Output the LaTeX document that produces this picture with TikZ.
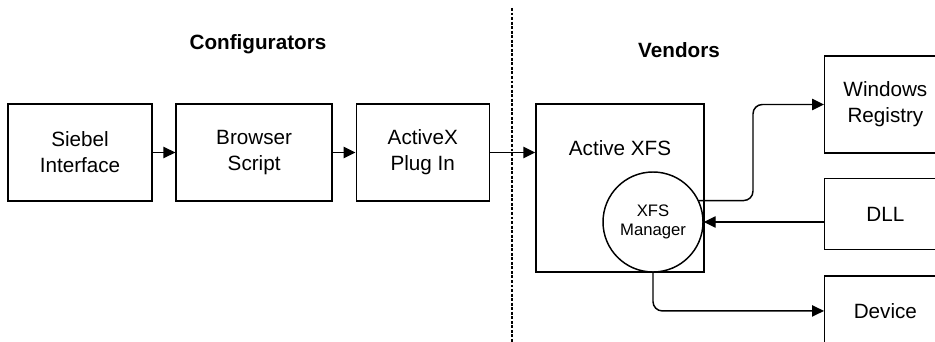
\documentclass[tikz,border=0pt]{standalone}
\usepackage{fontspec}
\setmainfont{Liberation Sans}
\usetikzlibrary{positioning,arrows.meta,calc}
\tikzset{
    block/.style={rectangle, draw=black, line width=1.1pt, fill=white, align=center, inner sep=0pt, font=\fontsize{15.5}{19.5}\selectfont},
    manager/.style={circle, draw=black, line width=1.1pt, fill=white, align=center, inner sep=0pt, minimum size=75pt, font=\fontsize{12.5}{14.4}\selectfont},
    grouptitle/.style={font=\bfseries\fontsize{15.5}{18}\selectfont},
    arrow/.style={-{Triangle[length=9pt,width=8.5pt]}, line width=1.1pt},
    divider/.style={line width=1.1pt, dash pattern=on 2.2pt off 1.2pt},
}

\begin{document}
\begin{tikzpicture}[x=0.75pt, y=-0.75pt]
    \useasboundingbox (0,0) rectangle (935,342);
    \clip (0,0) rectangle (935,342);

    % Group titles
    \node[grouptitle] (conftitle) at (258,44) {Configurators};
    \node[grouptitle] (vendtitle) at (679,50) {Vendors};

    % Divider
    \coordinate (divtop) at (512,8);
    \coordinate (divbot) at (512,342);
    \draw[divider] (divtop) -- (divbot);

    % Configurator side
    \node[block, minimum width=108pt, minimum height=72.75pt] (siebel) at (80,152.5) {Siebel\\Interface};
    \node[block, minimum width=117pt, minimum height=72.75pt, right=17pt of siebel] (browser) {Browser\\Script};
    \node[block, minimum width=99.75pt, minimum height=72.75pt, right=17pt of browser] (activex) {ActiveX\\Plug In};

    % Vendor side
    \node[block, minimum width=126pt, minimum height=126pt] (xfs) at (620,188) {};
    \node[font=\fontsize{15.5}{19.5}\selectfont] (xfslabel) at ($(xfs.north)+(0,45)$) {Active XFS};
    \node[manager] (mgr) at (653,222) {XFS\\Manager};

    \node[block, minimum width=100pt, minimum height=72.75pt, anchor=west] (winreg) at (824,104.5) {\hspace*{-9pt}Windows\\\hspace*{-9pt}Registry};
    \node[block, minimum width=100pt, minimum height=53.25pt, below=18pt of winreg] (dll) {\hspace*{-9pt}DLL};
    \node[block, minimum width=100pt, minimum height=52.5pt, below=18.75pt of dll] (device) {\hspace*{-9pt}Device};

    % Arrows
    \draw[arrow] (siebel) -- (browser);
    \draw[arrow] (browser) -- (activex);
    \draw[arrow] (activex.east) -- (activex.east -| xfs.west);
    \draw[arrow, rounded corners=7pt] (mgr.25) -- ++(54,0) |- (winreg.west);
    \draw[arrow] (dll.west |- mgr.east) -- (mgr.east);
    \draw[arrow, rounded corners=7pt] (mgr.south) |- (device.west);
\end{tikzpicture}
\end{document}
